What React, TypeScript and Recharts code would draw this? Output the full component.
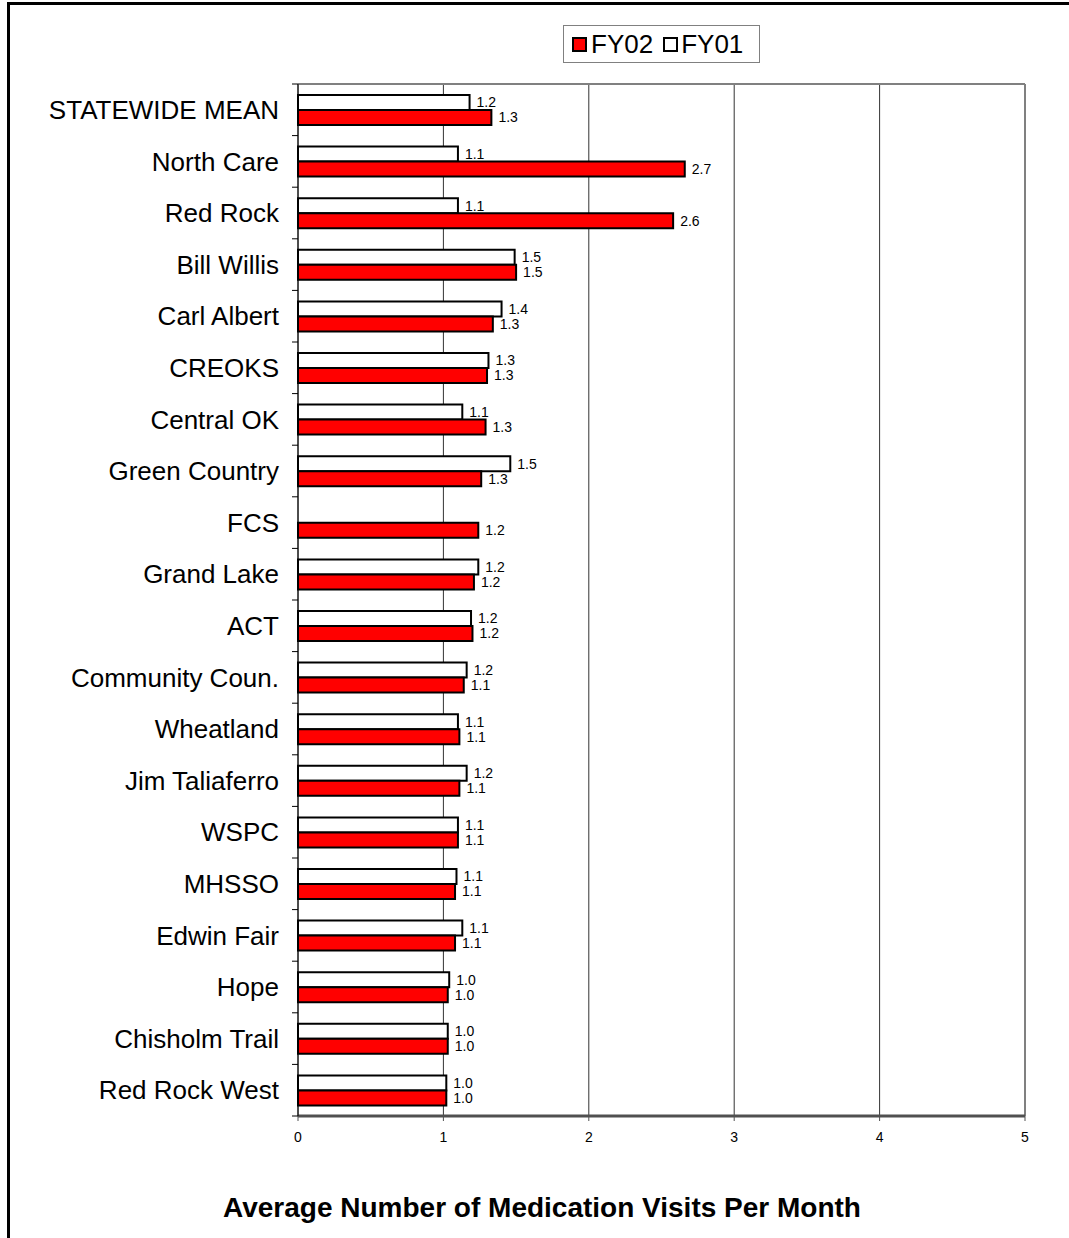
import React from "react";
import {
  BarChart,
  Bar,
  XAxis,
  YAxis,
  CartesianGrid,
  LabelList,
} from "recharts";

const categories = [
  "STATEWIDE MEAN",
  "North Care",
  "Red Rock",
  "Bill Willis",
  "Carl Albert",
  "CREOKS",
  "Central OK",
  "Green Country",
  "FCS",
  "Grand Lake",
  "ACT",
  "Community Coun.",
  "Wheatland",
  "Jim Taliaferro",
  "WSPC",
  "MHSSO",
  "Edwin Fair",
  "Hope",
  "Chisholm Trail",
  "Red Rock West",
];

const fy01 = [
  1.18, 1.1, 1.1, 1.49, 1.4, 1.31, 1.13, 1.46, null, 1.24,
  1.19, 1.16, 1.1, 1.16, 1.1, 1.09, 1.13, 1.04, 1.03, 1.02,
];

const fy02 = [
  1.33, 2.66, 2.58, 1.5, 1.34, 1.3, 1.29, 1.26, 1.24, 1.21,
  1.2, 1.14, 1.11, 1.11, 1.1, 1.08, 1.08, 1.03, 1.03, 1.02,
];

const xTicks = [0, 1, 2, 3, 4, 5];

const FONT = "Arial, 'Liberation Sans', sans-serif";

const data = categories.map((name, i) => ({
  name,
  fy01: fy01[i],
  fy02: fy02[i],
}));

const fmt = (v: any) => (v == null ? "" : Number(v).toFixed(1));

const CategoryTick = (props: any) => {
  const { x, y, payload, index } = props;
  const off = payload?.offset ?? 25.8;
  return (
    <g>
      <text
        x={x - 19}
        y={y}
        dy="0.35em"
        textAnchor="end"
        fontSize={26}
        fontFamily={FONT}
        fill="#000"
      >
        {payload.value}
      </text>
      <line x1={x - 6} x2={x} y1={y - off} y2={y - off} stroke="#000" />
      {index === categories.length - 1 && (
        <line x1={x - 6} x2={x} y1={y + off} y2={y + off} stroke="#000" />
      )}
    </g>
  );
};

function LegendBox() {
  const swatch = (fill: string) => (
    <span
      style={{
        display: "inline-block",
        width: 11,
        height: 11,
        border: "2px solid #000",
        background: fill,
      }}
    />
  );
  return (
    <div
      style={{
        position: "absolute",
        left: 563,
        top: 25,
        width: 197,
        height: 38,
        border: "1px solid #808080",
        display: "flex",
        alignItems: "center",
        fontFamily: FONT,
        fontSize: 26,
        color: "#000",
        boxSizing: "border-box",
        paddingLeft: 8,
      }}
    >
      {swatch("#ff0000")}
      <span style={{ marginLeft: 4 }}>FY02</span>
      <span style={{ marginLeft: 10, display: "flex" }}>{swatch("#ffffff")}</span>
      <span style={{ marginLeft: 3 }}>FY01</span>
    </div>
  );
}

export default function App() {
  return (
    <div
      style={{
        position: "absolute",
        left: 0,
        top: 0,
        width: 1069,
        height: 1238,
        background: "#fff",
        overflow: "hidden",
      }}
    >
      <div
        style={{
          position: "absolute",
          left: 7,
          top: 2,
          width: 1062,
          height: 1236,
          borderTop: "3px solid #000",
          borderLeft: "3px solid #000",
        }}
      />
      <div style={{ position: "absolute", left: 0, top: 0 }}>
        <BarChart
          width={1069}
          height={1238}
          data={data}
          layout="vertical"
          margin={{ top: 84, right: 44, bottom: 92, left: 0 }}
          barCategoryGap="21%"
          barGap={0}
        >
          <CartesianGrid horizontal={false} stroke="#333" strokeWidth={1} />
          <CartesianGrid
            horizontalCoordinatesGenerator={({ offset }: any) => [offset.top]}
            verticalCoordinatesGenerator={({ offset }: any) => [
              offset.left + offset.width,
            ]}
            stroke="#808080"
            strokeWidth={2}
          />
          <XAxis
            type="number"
            domain={[0, 5]}
            ticks={xTicks}
            interval={0}
            height={30}
            tickSize={5}
            tickMargin={11}
            axisLine={{ stroke: "#505050", strokeWidth: 3 }}
            tickLine={{ stroke: "#505050" }}
            tick={{ fontSize: 14, fontFamily: FONT, fill: "#000" }}
          />
          <YAxis
            type="category"
            dataKey="name"
            width={298}
            interval={0}
            tickSize={0}
            tickMargin={0}
            tickLine={false}
            axisLine={{ stroke: "#000" }}
            tick={<CategoryTick />}
          />
          <Bar
            dataKey="fy01"
            fill="#ffffff"
            stroke="#000"
            strokeWidth={2}
            barSize={15}
            isAnimationActive={false}
          >
            <LabelList
              dataKey="fy01"
              position="right"
              offset={7}
              formatter={fmt}
              style={{ fontSize: 14, fontFamily: FONT, fill: "#000" }}
            />
          </Bar>
          <Bar
            dataKey="fy02"
            fill="#ff0000"
            stroke="#000"
            strokeWidth={2}
            barSize={15}
            isAnimationActive={false}
          >
            <LabelList
              dataKey="fy02"
              position="right"
              offset={7}
              formatter={fmt}
              style={{ fontSize: 14, fontFamily: FONT, fill: "#000" }}
            />
          </Bar>
        </BarChart>
      </div>
      <LegendBox />
      <div
        style={{
          position: "absolute",
          left: 0,
          top: 1194,
          width: 1084,
          textAlign: "center",
          fontFamily: FONT,
          fontWeight: "bold",
          fontSize: 28,
          lineHeight: "28px",
          color: "#000",
        }}
      >
        Average Number of Medication Visits Per Month
      </div>
    </div>
  );
}
